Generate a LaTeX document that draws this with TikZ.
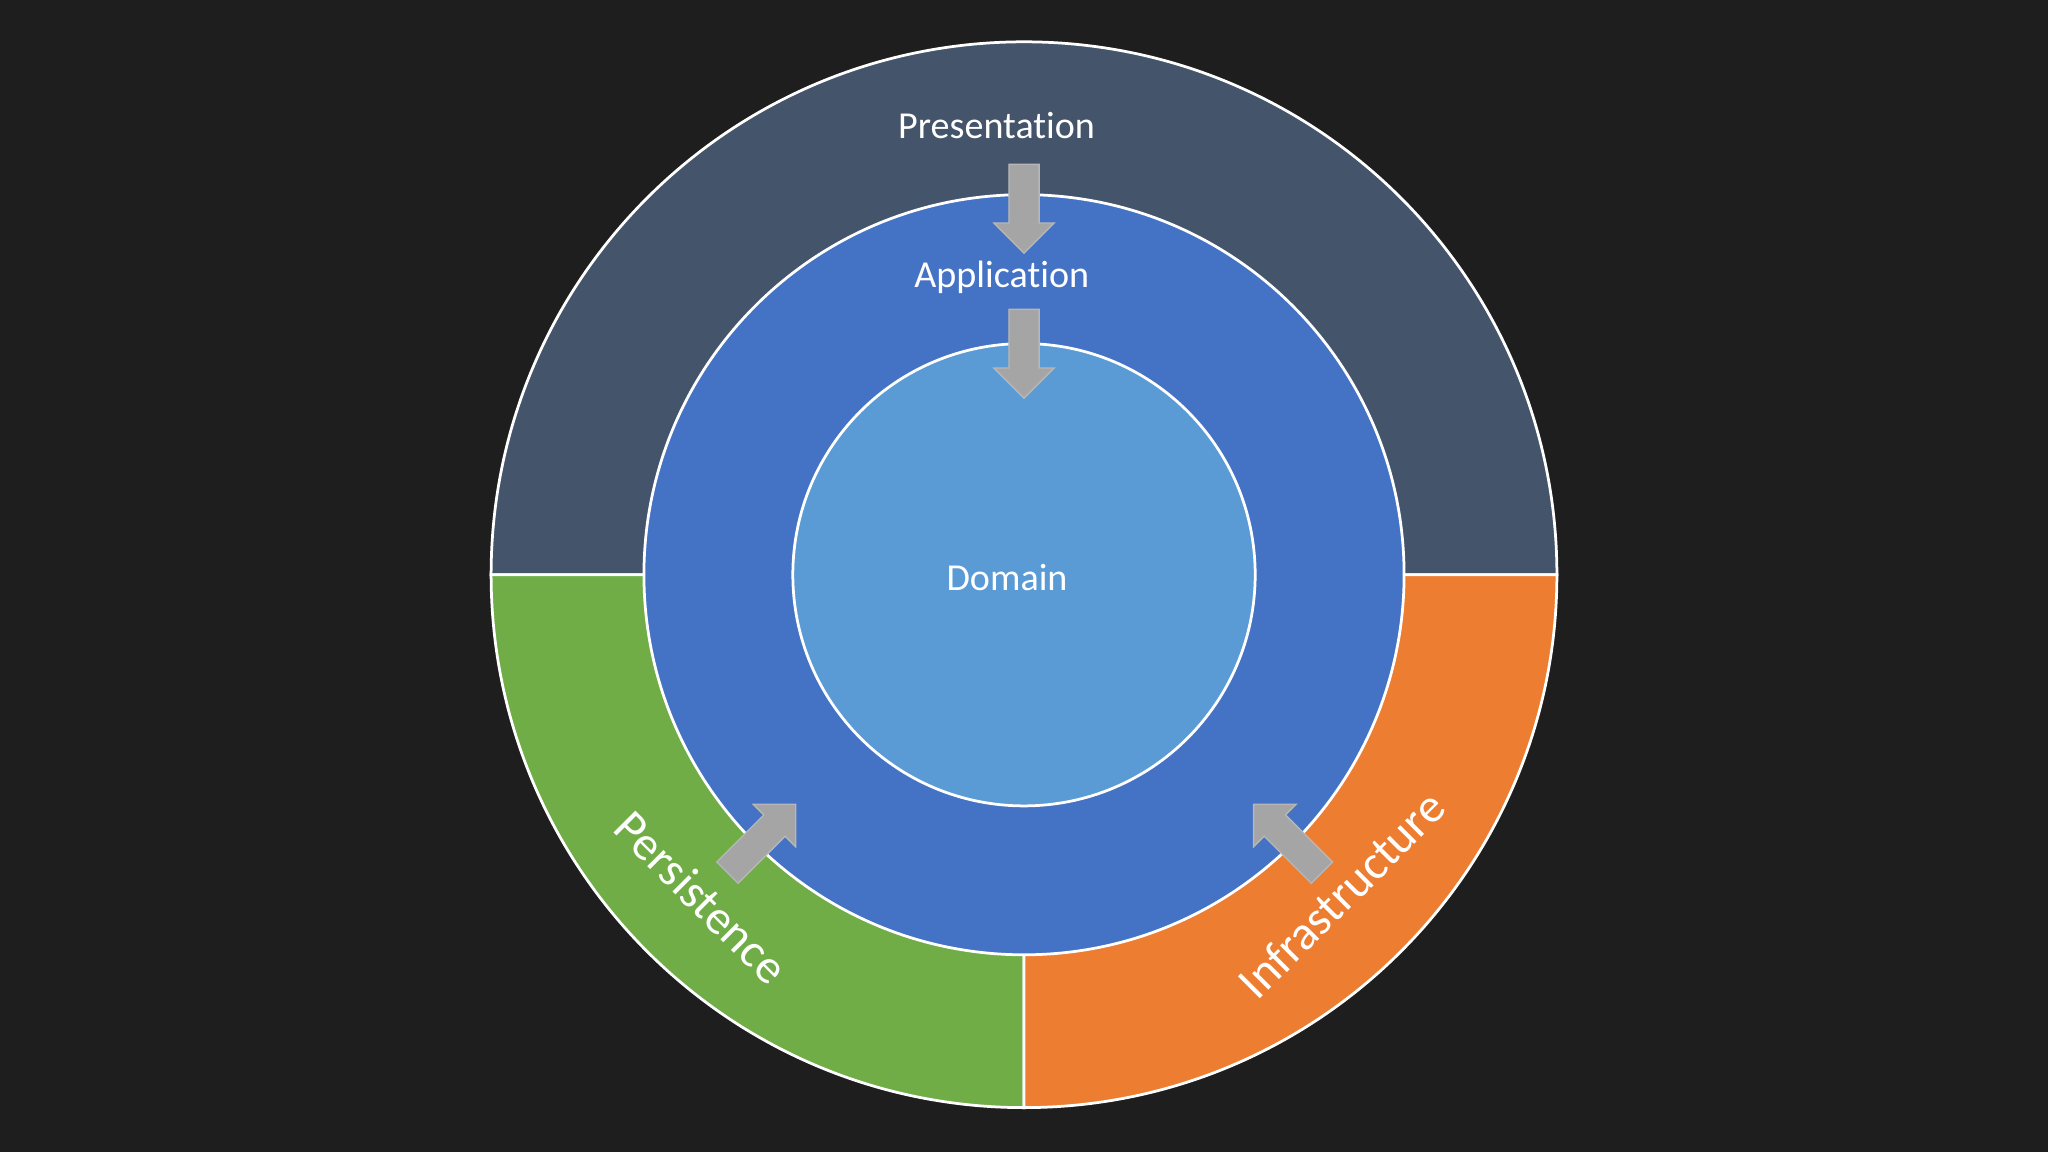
\documentclass[tikz,border=0pt]{standalone}
\usepackage{fontspec}
\setmainfont{Carlito}[Ligatures={NoCommon}]
\usetikzlibrary{shapes.arrows}
\definecolor{bg}{HTML}{1E1E1E}
\definecolor{slate}{HTML}{44546A}
\definecolor{grn}{HTML}{70AD47}
\definecolor{org}{HTML}{ED7D31}
\definecolor{blu}{HTML}{4472C4}
\definecolor{lblu}{HTML}{5B9BD5}
\definecolor{arr}{HTML}{A5A5A5}
\tikzset{
 ring/.style={draw=white,line width=0.6pt},
 lbl/.style={text=white,font=\fontsize{8.3pt}{9pt}\selectfont,inner sep=0},
 biglbl/.style={text=white,font=\fontsize{10.5pt}{11pt}\selectfont,inner sep=0},
 blockarrow/.style={single arrow,fill=arr,draw=arr!80!white,line width=0.3pt,minimum height=0.68cm,text height=0pt,text depth=0pt,text width=0pt,inner xsep=0pt,inner ysep=0.11cm,single arrow head extend=0.115cm,single arrow head indent=0pt}
}
\begin{document}
\begin{tikzpicture}
\fill[bg] (0,0) rectangle (15.68,-8.82);
\useasboundingbox (0,0) rectangle (15.68,-8.82);
\coordinate (c) at (7.84,-4.40);
\filldraw[fill=slate,ring] (c) ++(180:4.08) arc(180:0:4.08) -- cycle;
\filldraw[fill=grn,ring] (c) -- ++(180:4.08) arc(180:270:4.08) -- cycle;
\filldraw[fill=org,ring] (c) -- ++(270:4.08) arc(270:360:4.08) -- cycle;
\filldraw[fill=blu,ring] (c) circle (2.91cm);
\filldraw[fill=lblu,ring] (c) circle (1.77cm);
\node[lbl] (pres) at (7.63,-0.96) {Presentation};
\node[lbl] (app) at (7.67,-2.12) {Application};
\node[lbl] (dom) at (7.71,-4.42) {Domain};
\node[biglbl,rotate=-45] (pers) at (5.37,-6.87) {Persistence};
\node[biglbl,rotate=45] (infra) at (10.27,-6.85) {Infrastructure};
\node[blockarrow,rotate=-90] (a1) at (7.84,-1.54) {};
\node[blockarrow,rotate=-90] (a2) at (7.84,-2.65) {};
\node[blockarrow,rotate=45,minimum height=0.74cm] (a3) at (5.79,-6.46) {};
\node[blockarrow,rotate=135,minimum height=0.74cm] (a4) at (9.90,-6.46) {};
\end{tikzpicture}
\end{document}
